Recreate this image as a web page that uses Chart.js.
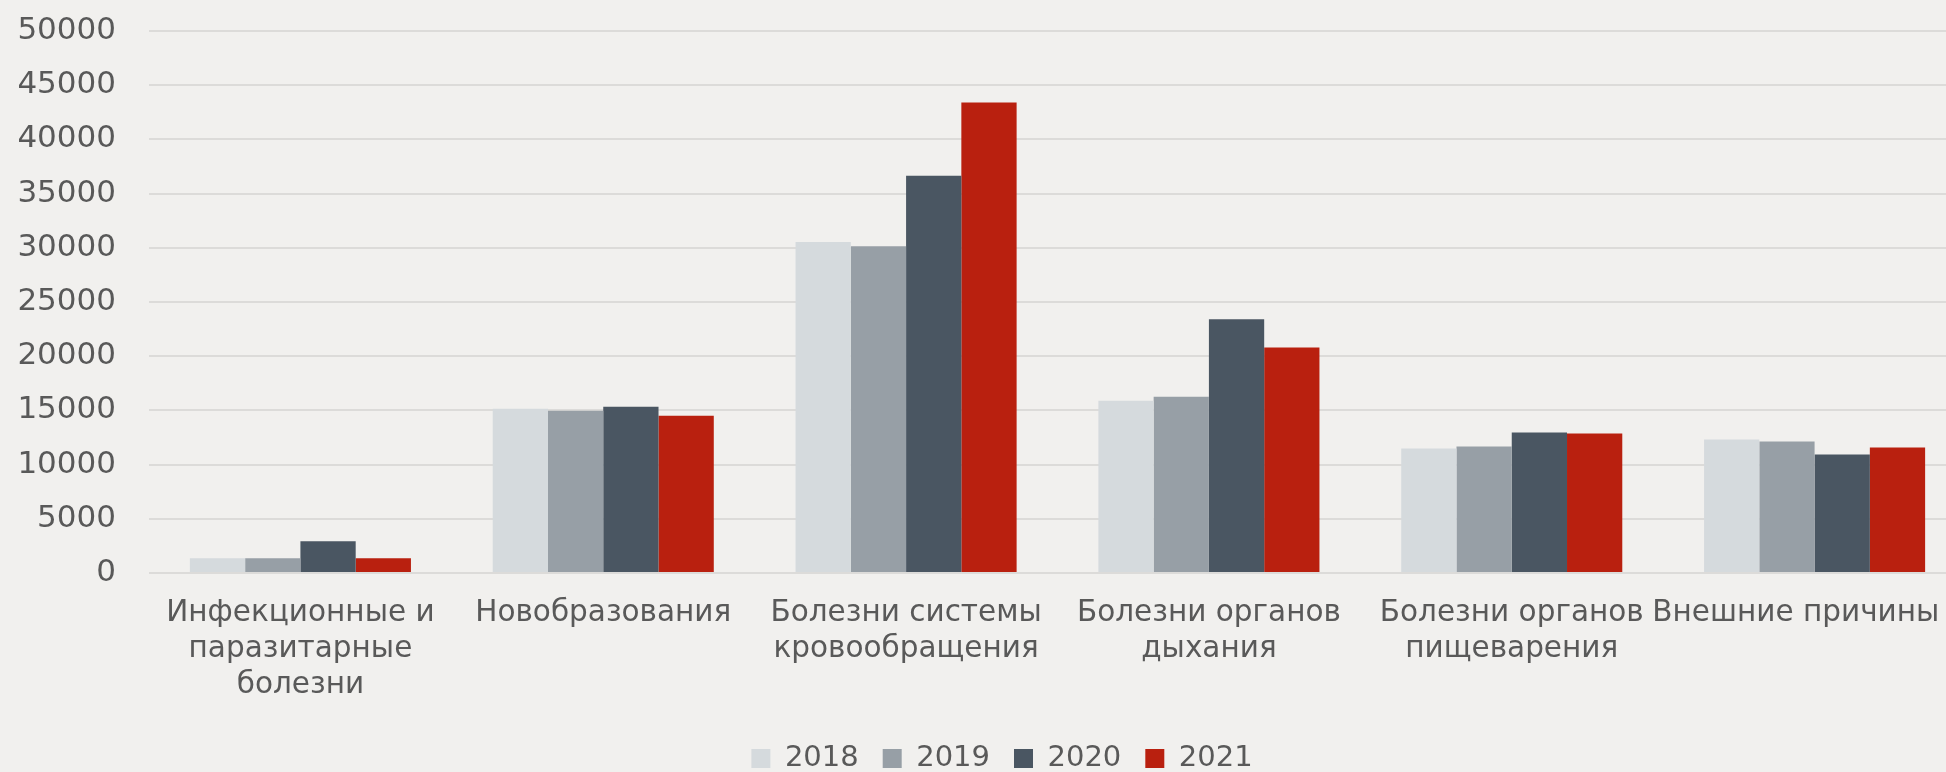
<!DOCTYPE html>
<html>
<head>
<meta charset="utf-8">
<script src="https://cdn.jsdelivr.net/npm/chart.js@4"></script>
<style>
  html, body { margin: 0; padding: 0; background: #f1f0ee; overflow: hidden; }
  #wrap { position: absolute; left: 0; top: 0; width: 1966px; height: 783px; }
</style>
</head>
<body>
<div id="wrap"><canvas id="c" width="1966" height="783"></canvas></div>
<script>
const categories = [
  ["Инфекционные и", "паразитарные", "болезни"],
  ["Новобразования"],
  ["Болезни системы", "кровообращения"],
  ["Болезни органов", "дыхания"],
  ["Болезни органов", "пищеварения"],
  ["Внешние причины    "]
];
const seriesNames = ["2018", "2019", "2020", "2021"];
const values2018 = [1360, 15150, 30530, 15900, 11480, 12320];
const values2019 = [1360, 14970, 30150, 16270, 11670, 12130];
const values2020 = [2930, 15340, 36640, 23400, 12960, 10930];
const values2021 = [1360, 14510, 43400, 20800, 12870, 11570];
const yTicks = [0, 5000, 10000, 15000, 20000, 25000, 30000, 35000, 40000, 45000, 50000];

const colors = ["#d5dadd", "#979fa6", "#4a5662", "#b9200f"];
const allValues = [values2018, values2019, values2020, values2021];
const textColor = "#595959";
const gridColor = "#dcdbd9";
const fontFamily = '"DejaVu Sans", "Open Sans", sans-serif';

const bgPlugin = {
  id: 'bg',
  beforeDraw(chart) {
    const ctx = chart.ctx;
    ctx.save();
    ctx.fillStyle = '#f1f0ee';
    ctx.fillRect(0, 0, chart.width, chart.height);
    ctx.restore();
  }
};

const legendShift = {
  id: 'legendShift',
  afterLayout(chart) {
    if (chart.legend) {
      chart.legend.left += 19;
      chart.legend.right += 19;
    }
  }
};

new Chart(document.getElementById('c'), {
  type: 'bar',
  data: {
    labels: categories,
    datasets: seriesNames.map((name, i) => ({
      label: name,
      data: allValues[i],
      backgroundColor: colors[i],
      borderWidth: 0,
      categoryPercentage: 0.73,
      barPercentage: 1.0
    }))
  },
  options: {
    responsive: false,
    animation: false,
    devicePixelRatio: 1,
    layout: { padding: { left: 0, right: 0, top: 31, bottom: 0 } },
    plugins: {
      legend: {
        position: 'bottom',
        labels: {
          boxWidth: 19,
          boxHeight: 19,
          padding: 24,
          color: textColor,
          font: { family: fontFamily, size: 29 }
        }
      },
      tooltip: { enabled: false }
    },
    scales: {
      x: {
        grid: { display: false },
        border: { display: false },
        ticks: {
          color: textColor,
          font: { family: fontFamily, size: 29.5, lineHeight: 1.22 },
          padding: 14,
          autoSkip: false,
          maxRotation: 0,
          minRotation: 0
        },
        afterFit(scale) {
          scale.height = 147;
          scale.paddingLeft = 0;
          scale.paddingRight = 0;
        }
      },
      y: {
        min: 0,
        max: 50000,
        grid: { color: gridColor, lineWidth: 2, drawTicks: false },
        border: { display: false },
        afterBuildTicks(scale) { scale.ticks = yTicks.map(v => ({ value: v })); },
        ticks: {
          color: textColor,
          font: { family: fontFamily, size: 31 },
          padding: 33,
          callback: (v) => String(v)
        },
        afterFit(scale) {
          scale.width = 149;
          scale.paddingTop = 0;
          scale.paddingBottom = 0;
        }
      }
    }
  },
  plugins: [bgPlugin, legendShift]
});
</script>
</body>
</html>
